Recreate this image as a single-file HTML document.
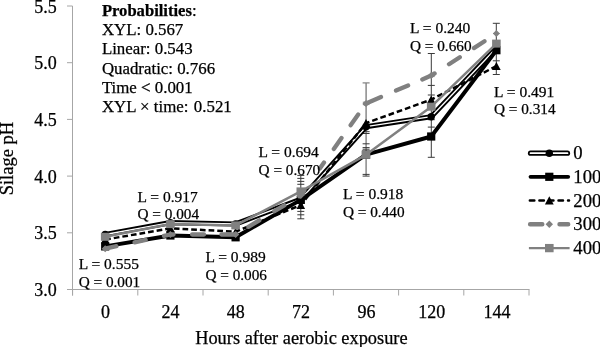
<!DOCTYPE html>
<html><head><meta charset="utf-8"><title>Silage pH</title>
<style>
html,body{margin:0;padding:0;background:#fff;}
body{width:600px;height:347px;overflow:hidden;font-family:"Liberation Serif",serif;}
svg{display:block;will-change:transform;}
text{font-family:"Liberation Serif",serif;fill:#000;stroke:#000;stroke-width:0.25px;}
.ax{stroke:#a6a6a6;stroke-width:1;fill:none;}
.eb{stroke:#555;stroke-width:1;fill:none;}
</style></head><body>
<svg width="600" height="347" viewBox="0 0 600 347">
<rect width="600" height="347" fill="#fff"/>
<path class="ax" d="M72.5,6V295.5M67,289.5H529.5"/>
<path class="ax" d="M67,289.50H72.5"/>
<path class="ax" d="M67,232.80H72.5"/>
<path class="ax" d="M67,176.10H72.5"/>
<path class="ax" d="M67,119.40H72.5"/>
<path class="ax" d="M67,62.70H72.5"/>
<path class="ax" d="M67,6.00H72.5"/>
<path class="ax" d="M72.60,289.5V295.5"/>
<path class="ax" d="M137.80,289.5V295.5"/>
<path class="ax" d="M203.00,289.5V295.5"/>
<path class="ax" d="M268.20,289.5V295.5"/>
<path class="ax" d="M333.40,289.5V295.5"/>
<path class="ax" d="M398.60,289.5V295.5"/>
<path class="ax" d="M463.80,289.5V295.5"/>
<path class="ax" d="M529.00,289.5V295.5"/>
<text x="34.3" y="296.1" font-size="18">3.0</text>
<text x="34.3" y="239.4" font-size="18">3.5</text>
<text x="34.3" y="182.7" font-size="18">4.0</text>
<text x="34.3" y="126.0" font-size="18">4.5</text>
<text x="34.3" y="69.3" font-size="18">5.0</text>
<text x="34.3" y="12.6" font-size="18">5.5</text>
<text x="105.4" y="317.5" font-size="18" text-anchor="middle">0</text>
<text x="170.6" y="317.5" font-size="18" text-anchor="middle">24</text>
<text x="235.8" y="317.5" font-size="18" text-anchor="middle">48</text>
<text x="301.0" y="317.5" font-size="18" text-anchor="middle">72</text>
<text x="366.6" y="317.5" font-size="18" text-anchor="middle">96</text>
<text x="431.8" y="317.5" font-size="18" text-anchor="middle">120</text>
<text x="497.0" y="317.5" font-size="18" text-anchor="middle">144</text>
<text x="301.4" y="343.7" font-size="18.35" text-anchor="middle">Hours after aerobic exposure</text>
<text transform="translate(13.2,158.6) rotate(-90)" font-size="18.5" text-anchor="middle">Silage pH</text>
<path d="M300.8,175.4V219.0" stroke="#3a3a3a" stroke-width="1" fill="none"/>
<path d="M297.3,175.4H304.3M297.3,178.4H304.3M297.3,181.4H304.3M297.3,184.3H304.3M297.3,211.4H304.3M297.3,214.8H304.3M297.3,218.8H304.3" stroke="#3a3a3a" stroke-width="1" fill="none"/>
<path d="M366.1,82.9V176.1" stroke="#808080" stroke-width="1.4" fill="none"/>
<path d="M362.6,131.7H369.6M362.6,133.5H369.6M362.6,143.8H369.6M362.6,147.6H369.6M362.6,149.2H369.6M362.6,174.4H369.6M362.6,176.1H369.6" stroke="#3a3a3a" stroke-width="1" fill="none"/>
<path d="M362.6,82.9H369.6" stroke="#808080" stroke-width="1.2"/>
<path d="M431.3,53.5V157.3" stroke="#3a3a3a" stroke-width="1" fill="none"/>
<path d="M427.8,53.5H434.8M427.8,85.4H434.8M427.8,95.0H434.8M427.8,119.7H434.8M427.8,127.1H434.8M427.8,157.3H434.8" stroke="#3a3a3a" stroke-width="1" fill="none"/>
<path d="M496.3,23.3V74.5" stroke="#3a3a3a" stroke-width="1" fill="none"/>
<path d="M492.8,23.3H499.8M492.8,60.8H499.8M492.8,74.5H499.8" stroke="#3a3a3a" stroke-width="1" fill="none"/>
<path d="M362.8,102.2H369.4M362.8,104.6H369.4M428,76.6H434.6M493,33.5H499.6" stroke="#808080" stroke-width="1" fill="none"/>
<polyline points="105.2,234.5 170.4,222.6 235.6,224.0 300.8,199.3 366.0,126.7 431.2,116.7 496.4,48.0" fill="none" stroke="#000" stroke-width="5.2" stroke-linejoin="round" stroke-linecap="round"/>
<polyline points="105.2,234.5 170.4,222.6 235.6,224.0 300.8,199.3 366.0,126.7 431.2,116.7 496.4,48.0" fill="none" stroke="#fff" stroke-width="1.35" stroke-linejoin="round" stroke-linecap="round"/>
<circle cx="105.2" cy="234.5" r="3.7" fill="#000"/>
<circle cx="170.4" cy="222.6" r="3.7" fill="#000"/>
<circle cx="235.6" cy="224.0" r="3.7" fill="#000"/>
<circle cx="300.8" cy="199.3" r="3.7" fill="#000"/>
<circle cx="366.0" cy="126.7" r="3.7" fill="#000"/>
<circle cx="431.2" cy="116.7" r="3.7" fill="#000"/>
<circle cx="496.4" cy="48.0" r="3.7" fill="#000"/>
<polyline points="105.2,246.4 170.4,235.5 235.6,237.3 300.8,199.9 366.0,154.6 431.2,136.5 496.4,50.2" fill="none" stroke="#000" stroke-width="3.9" stroke-linejoin="round" stroke-linecap="round"/>
<rect x="101.1" y="242.3" width="8.2" height="8.2" fill="#000"/>
<rect x="166.3" y="231.4" width="8.2" height="8.2" fill="#000"/>
<rect x="231.5" y="233.2" width="8.2" height="8.2" fill="#000"/>
<rect x="296.7" y="195.8" width="8.2" height="8.2" fill="#000"/>
<rect x="361.9" y="150.5" width="8.2" height="8.2" fill="#000"/>
<rect x="427.1" y="132.4" width="8.2" height="8.2" fill="#000"/>
<rect x="492.3" y="46.1" width="8.2" height="8.2" fill="#000"/>
<polyline points="105.2,239.6 170.4,228.3 235.6,231.7 300.8,205.0 366.0,123.1 431.2,99.6 496.4,66.1" fill="none" stroke="#000" stroke-width="2.5" stroke-dasharray="5.7 3"/>
<path d="M100.9,243.6L105.2,235.6L109.5,243.6Z" fill="#000"/>
<path d="M166.1,232.3L170.4,224.3L174.7,232.3Z" fill="#000"/>
<path d="M231.3,235.7L235.6,227.7L239.9,235.7Z" fill="#000"/>
<path d="M296.5,209.0L300.8,201.0L305.1,209.0Z" fill="#000"/>
<path d="M361.7,127.1L366.0,119.1L370.3,127.1Z" fill="#000"/>
<path d="M426.9,103.6L431.2,95.6L435.5,103.6Z" fill="#000"/>
<path d="M492.1,70.1L496.4,62.1L500.7,70.1Z" fill="#000"/>
<path d="M105.2,248.7L116.4,246.2 M134.6,242.3L145.7,239.9 M163.9,235.9L170.4,234.5L173.5,234.5 M192.1,234.5L204.0,234.5 M221.4,234.5L235.6,234.5L236.3,234.1 M248.4,226.8L259.3,220.3 M274.4,211.2L284.3,205.3 M299.2,196.3L300.8,195.4L304.3,190.4 M319.8,168.6L324.0,162.6 M333.8,148.9L341.5,137.9 M350.6,125.2L358.2,114.4 M365.6,104.0L366.0,103.4L381.0,97.0 M396.0,90.6L408.1,85.5 M422.3,79.4L431.2,75.6L434.6,73.4 M449.0,64.2L459.8,57.2 M473.9,48.1L484.5,41.2" fill="none" stroke="#808080" stroke-width="4.3" stroke-linecap="round" stroke-linejoin="round"/>
<path d="M101.7,248.7L105.2,245.2L108.7,248.7L105.2,252.2Z" fill="#808080"/>
<path d="M166.9,234.5L170.4,231.0L173.9,234.5L170.4,238.0Z" fill="#808080"/>
<path d="M232.1,234.5L235.6,231.0L239.1,234.5L235.6,238.0Z" fill="#808080"/>
<path d="M297.3,195.4L300.8,191.9L304.3,195.4L300.8,198.9Z" fill="#808080"/>
<path d="M362.5,103.4L366.0,99.9L369.5,103.4L366.0,106.9Z" fill="#808080"/>
<path d="M427.7,75.6L431.2,72.1L434.7,75.6L431.2,79.1Z" fill="#808080"/>
<path d="M492.9,33.6L496.4,30.1L499.9,33.6L496.4,37.1Z" fill="#808080"/>
<polyline points="105.2,236.8 170.4,224.1 235.6,225.4 300.8,191.4 366.0,154.8 431.2,106.7 496.4,43.6" fill="none" stroke="#808080" stroke-width="2.5" stroke-linejoin="round"/>
<rect x="100.9" y="232.8" width="8.6" height="8" fill="#808080"/>
<rect x="166.1" y="220.1" width="8.6" height="8" fill="#808080"/>
<rect x="231.3" y="221.4" width="8.6" height="8" fill="#808080"/>
<rect x="296.5" y="187.4" width="8.6" height="8" fill="#808080"/>
<rect x="361.7" y="150.8" width="8.6" height="8" fill="#808080"/>
<rect x="426.9" y="102.7" width="8.6" height="8" fill="#808080"/>
<rect x="492.1" y="39.6" width="8.6" height="8" fill="#808080"/>
<path d="M530.5,153.2H567.5" stroke="#000" stroke-width="5.2" stroke-linecap="round"/>
<path d="M530.5,153.2H567.5" stroke="#fff" stroke-width="1.7" stroke-linecap="round"/>
<circle cx="549.3" cy="153.2" r="3.7" fill="#000"/>
<path d="M530.5,176.8H568.2" stroke="#000" stroke-width="3.8" stroke-linecap="round"/>
<rect x="545.1999999999999" y="172.70000000000002" width="8.2" height="8.2" fill="#000"/>
<path d="M529.9,200.5H569" stroke="#000" stroke-width="2.6" stroke-dasharray="4.4 5.15" stroke-linecap="round"/>
<path d="M544.9,204.6L549.3,196.3L553.6999999999999,204.6Z" fill="#000"/>
<path d="M530.1,224.3H542.3M559.5,224.3H568.2" stroke="#808080" stroke-width="4.4" stroke-linecap="round"/>
<path d="M545.5999999999999,224.3L549.3,220.60000000000002L553.0,224.3L549.3,228.0Z" fill="#808080"/>
<path d="M528.9,248.1H569.6" stroke="#808080" stroke-width="2.4"/>
<rect x="545.0" y="243.95" width="8.6" height="8.3" fill="#808080"/>
<text x="573.3" y="159.2" font-size="18.7">0</text>
<text x="573.3" y="182.8" font-size="18.7">100</text>
<text x="573.3" y="206.5" font-size="18.7">200</text>
<text x="573.3" y="230.3" font-size="18.7">300</text>
<text x="573.3" y="254.1" font-size="18.7">400</text>
<text x="410" y="33.2" font-size="15.5">L = 0.240</text>
<text x="410" y="50.900000000000006" font-size="15.25">Q = 0.660</text>
<text x="494" y="96.7" font-size="15.5">L = 0.491</text>
<text x="494" y="114.4" font-size="15.25">Q = 0.314</text>
<text x="258.6" y="157.3" font-size="15.5">L = 0.694</text>
<text x="258.6" y="175.0" font-size="15.25">Q = 0.670</text>
<text x="343" y="199" font-size="15.5">L = 0.918</text>
<text x="343" y="216.7" font-size="15.25">Q = 0.440</text>
<text x="137.5" y="201.5" font-size="15.5">L = 0.917</text>
<text x="137.5" y="219.2" font-size="15.25">Q = 0.004</text>
<text x="205.4" y="262" font-size="15.5">L = 0.989</text>
<text x="205.4" y="279.7" font-size="15.25">Q = 0.006</text>
<text x="78.7" y="269" font-size="15.5">L = 0.555</text>
<text x="78.7" y="286.7" font-size="15.25">Q = 0.001</text>
<text x="101.9" y="15.5" font-size="16.85"><tspan font-weight="bold" font-size="16.6">Probabilities</tspan>:</text>
<text x="101.9" y="34.9" font-size="16.85">XYL: 0.567</text>
<text x="101.9" y="54.3" font-size="16.85">Linear: 0.543</text>
<text x="101.9" y="73.6" font-size="16.85">Quadratic: 0.766</text>
<text x="101.9" y="93.0" font-size="16.85">Time &lt; 0.001</text>
<text x="101.9" y="112.2" font-size="16.85">XYL × time:<tspan dx="1.2"> 0.521</tspan></text>
</svg></body></html>
